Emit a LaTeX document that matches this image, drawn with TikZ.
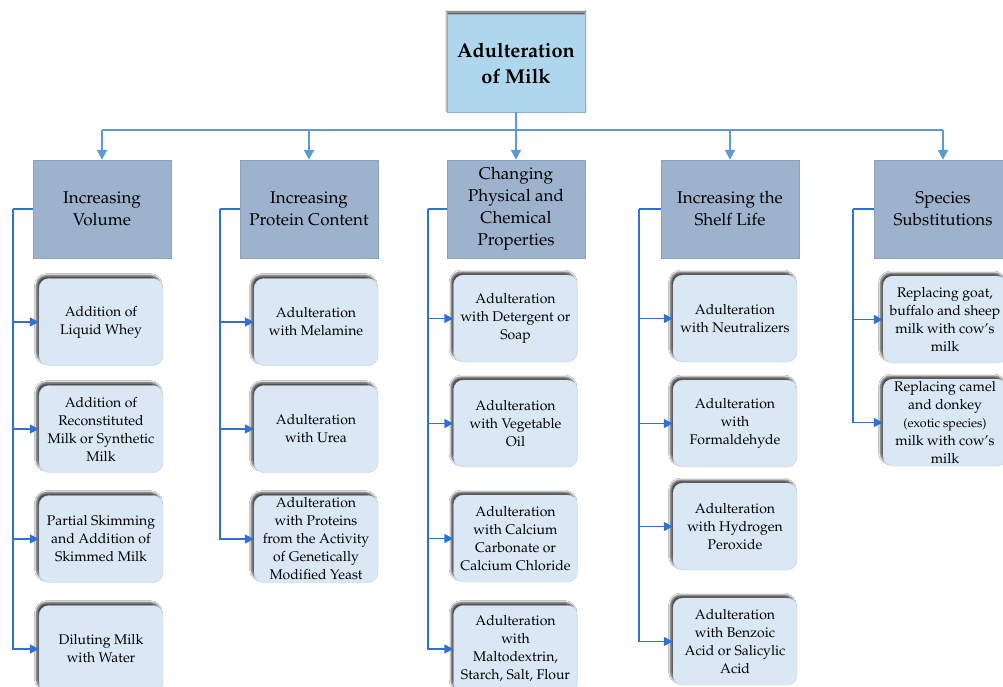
\documentclass[tikz,border=0pt]{standalone}
\usepackage[T1]{fontenc}
\usepackage{mathpazo}
\usetikzlibrary{arrows.meta,shadows.blur}
\definecolor{rootfill}{HTML}{AED6EC}
\definecolor{rootdraw}{HTML}{8FAFC4}
\definecolor{catfill}{HTML}{9DB3CD}
\definecolor{catdraw}{HTML}{8CA3BE}
\definecolor{childfill}{HTML}{DAE7F4}
\definecolor{childdraw}{HTML}{C4D3E3}
\definecolor{topline}{HTML}{5B9BD5}
\definecolor{brkline}{HTML}{2F70D0}
\begin{document}
\begin{tikzpicture}[x=1pt,y=-1pt,
 rootbox/.style={draw=rootdraw, fill=rootfill, minimum width=138pt, minimum height=98pt, align=center,
   font=\fontsize{20}{26}\selectfont\bfseries, inner sep=0pt,
   blur shadow={shadow xshift=0pt, shadow yshift=2pt, shadow blur steps=4, shadow opacity=70}},
 catbox/.style={draw=catdraw, fill=catfill, minimum width=138pt, minimum height=98pt, align=center,
   font=\fontsize{17}{22}\selectfont, inner sep=0pt},
 childbox/.style={draw=childdraw, fill=childfill, rounded corners=10pt, minimum width=124pt, minimum height=87pt,
   align=center, font=\fontsize{14}{18}\selectfont, inner sep=0pt,
   blur shadow={shadow xshift=-2.5pt, shadow yshift=3pt, shadow blur steps=5, shadow opacity=70}},
 topln/.style={draw=topline, line width=2pt},
 toparrow/.style={draw=topline, line width=2pt, -{Triangle[length=10pt,width=10pt]}},
 brk/.style={draw=brkline, line width=1.5pt},
 brkarrow/.style={draw=brkline, line width=1.5pt, -{Triangle[length=9pt,width=9pt]}},
]
\clip (0,0) rectangle (1003,687);
\fill[white] (0,0) rectangle (1003,687);

% root
\node[rootbox] (root) at (516,63) {Adulteration\\of Milk};

% categories
\node[catbox] (c1) at (102,209) {Increasing\\Volume};
\node[catbox] (c2) at (309,209) {Increasing\\Protein Content};
\node[catbox] (c3) at (516,209) {Changing\\Physical and\\Chemical\\Properties};
\node[catbox] (c4) at (730,209) {Increasing the\\Shelf Life};
\node[catbox] (c5) at (943,209) {Species\\Substitutions};

% top connectors
\coordinate (hl) at (102,130);
\coordinate (hr) at (943,130);
\draw[topln] (hl) -- (hr);
\draw[toparrow] (root.south) -- (c3.north);
\draw[toparrow] (c1.north |- hl) -- (c1.north);
\draw[toparrow] (c2.north |- hl) -- (c2.north);
\draw[toparrow] (c4.north |- hl) -- (c4.north);
\draw[toparrow] (c5.north |- hl) -- (c5.north);

% children column 1
\node[childbox] (k11) at (101,322) {Addition of\\Liquid Whey};
\node[childbox] (k12) at (101,429) {Addition of\\Reconstituted\\Milk or Synthetic\\Milk};
\node[childbox] (k13) at (101,539) {Partial Skimming\\and Addition of\\Skimmed Milk};
\node[childbox] (k14) at (101,649) {Diluting Milk\\with Water};
% column 2
\node[childbox] (k21) at (316,322) {Adulteration\\with Melamine};
\node[childbox] (k22) at (316,429) {Adulteration\\with Urea};
\node[childbox] (k23) at (316,539) {Adulteration\\with Proteins\\from the Activity\\of Genetically\\Modified Yeast};
% column 3
\node[childbox] (k31) at (515.5,318.5) {Adulteration\\with Detergent or\\Soap};
\node[childbox] (k32) at (515.5,423.5) {Adulteration\\with Vegetable\\Oil};
\node[childbox] (k33) at (515.5,538.5) {Adulteration\\with Calcium\\Carbonate or\\Calcium Chloride};
\node[childbox] (k34) at (515.5,649) {Adulteration\\with\\Maltodextrin,\\Starch, Salt, Flour};
% column 4
\node[childbox] (k41) at (735,318.5) {Adulteration\\with Neutralizers};
\node[childbox] (k42) at (735,423.5) {Adulteration\\with\\Formaldehyde};
\node[childbox] (k43) at (735,526.5) {Adulteration\\with Hydrogen\\Peroxide};
\node[childbox] (k44) at (735,641.5) {Adulteration\\with Benzoic\\Acid or Salicylic\\Acid};
% column 5
\node[childbox] (k51) at (945,319.5) {Replacing goat,\\buffalo and sheep\\milk with cow's\\milk};
\node[childbox] (k52) at (945,422.5) {Replacing camel\\and donkey\\{\fontsize{12.5}{18}\selectfont (exotic species)}\\milk with cow's\\milk};

% bracket connectors
\coordinate (b1) at (13,209);
\coordinate (b2) at (220,209);
\coordinate (b3) at (428,209);
\coordinate (b4) at (639,209);
\coordinate (b5) at (853,209);
\draw[brk] (c1.west) -- (b1);
\draw[brk] (c2.west) -- (b2);
\draw[brk] (c3.west) -- (b3);
\draw[brk] (c4.west) -- (b4);
\draw[brk] (c5.west) -- (b5);
\foreach \k in {11,12,13,14} \draw[brkarrow] (b1) |- (k\k.west);
\foreach \k in {21,22,23} \draw[brkarrow] (b2) |- (k\k.west);
\foreach \k in {31,32,33,34} \draw[brkarrow] (b3) |- (k\k.west);
\foreach \k in {41,42,43,44} \draw[brkarrow] (b4) |- (k\k.west);
\foreach \k in {51,52} \draw[brkarrow] (b5) |- (k\k.west);
\end{tikzpicture}
\end{document}
